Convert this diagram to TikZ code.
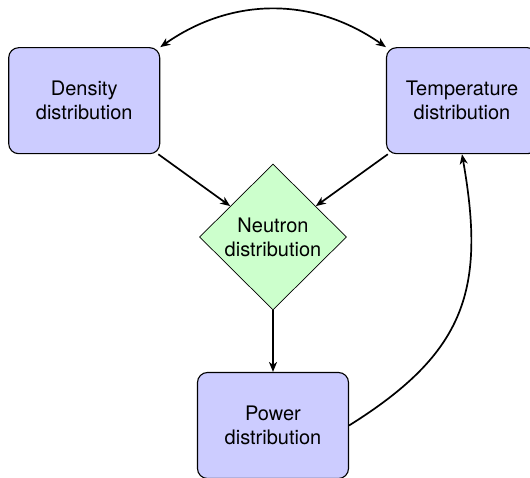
\documentclass[tikz,border=0pt]{standalone}
\usepackage{fontspec}
\setmainfont{TeX Gyre Heros}
\usetikzlibrary{shapes.geometric,arrows.meta}
\begin{document}
\begin{tikzpicture}[x=1pt,y=1pt,
  font=\fontsize{20}{24}\selectfont,
  box/.style={draw=black, line width=1.1pt, fill=blue!20, rounded corners=10pt,
    minimum width=151pt, minimum height=106pt, align=center, inner sep=0pt},
  decision/.style={diamond, draw=black, line width=0.7pt, fill=green!20,
    minimum width=147pt, minimum height=146pt, inner sep=0pt, align=center},
  link/.style={line width=1.7pt, -{Stealth[length=10pt,width=8pt,inset=3pt]}},
  twoway/.style={line width=1.7pt, {Stealth[length=10pt,width=8pt,inset=3pt]}-{Stealth[length=10pt,width=8pt,inset=3pt]}},
]
\useasboundingbox (0,0) rectangle (530,478);

% process boxes and the central decision
\node[box] (density) at (84.2,377.3) {Density\\distribution};
\node[box] (temperature) at (462,377.3) {Temperature\\distribution};
\node[decision] (neutron) at (273,241) {Neutron\\distribution};
\node[box] (power) at (273,52.5) {Power\\distribution};

% feedback loop
\draw[link] (density) -- (neutron);
\draw[link] (temperature) -- (neutron);
\draw[link] (neutron) -- (power);
\draw[link] (power.east) to[out=32,in=-80,looseness=1.2] (temperature.south);
\draw[twoway] (density.north east) to[bend left=35] (temperature.north west);
\end{tikzpicture}
\end{document}
